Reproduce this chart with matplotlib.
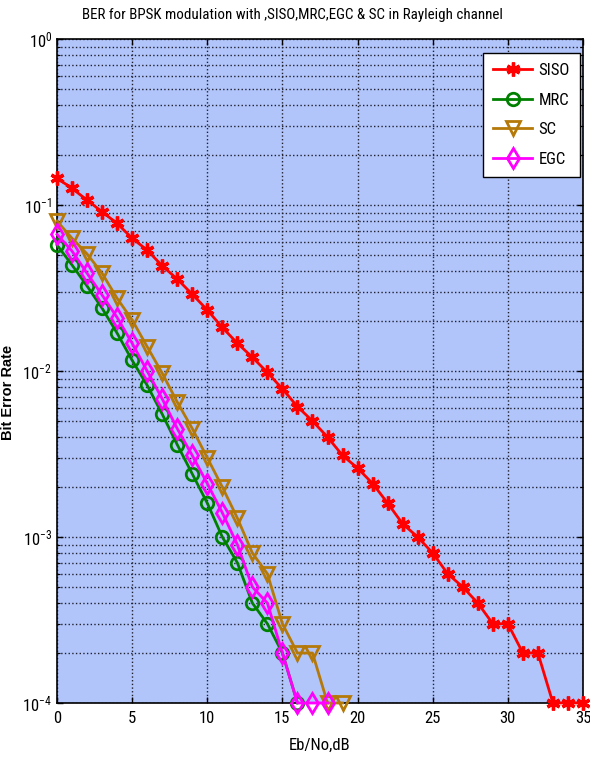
import numpy as np
import matplotlib
matplotlib.use("Agg")
import matplotlib.pyplot as plt
from matplotlib import font_manager

# ---------------- data ----------------
ebno_db = list(range(0, 36))

ber_siso = [0.145, 0.126, 0.107, 0.091, 0.0775, 0.063, 0.0535, 0.043, 0.0358, 0.029,
            0.0233, 0.0183, 0.0147, 0.0121, 0.0098, 0.0078, 0.0061, 0.0050, 0.0040, 0.0031,
            0.0026, 0.0021, 0.0016, 0.0012, 0.0010, 0.0008, 0.0006, 0.0005, 0.0004, 0.0003,
            0.0003, 0.0002, 0.0002, 0.0001, 0.0001, 0.0001]

ber_mrc = [0.0574, 0.0435, 0.0325, 0.0239, 0.0169, 0.0116, 0.0082, 0.0055, 0.0036, 0.0024,
           0.0016, 0.0010, 0.0007, 0.0004, 0.0003, 0.0002, 0.0001] + [np.nan] * 19

ber_sc = [0.080, 0.063, 0.0507, 0.0388, 0.0274, 0.0203, 0.0140, 0.0097, 0.0065, 0.0045,
          0.0030, 0.0020, 0.0013, 0.0008, 0.0006, 0.0003, 0.0002, 0.0002, 0.0001, 0.0001] + [np.nan] * 16

ber_egc = [0.0666, 0.0528, 0.0388, 0.0287, 0.0210, 0.0147, 0.0100, 0.0068, 0.0045, 0.0031,
           0.0021, 0.0014, 0.0009, 0.0005, 0.0004, 0.0002, 0.0001, 0.0001, 0.0001] + [np.nan] * 17

series_names = ["SISO", "MRC", "SC", "EGC"]
x_ticks = [0, 5, 10, 15, 20, 25, 30, 35]

title_text = "BER for BPSK modulation with ,SISO,MRC,EGC & SC in Rayleigh channel"
xlabel_text = "Eb/No,dB"
ylabel_text = "Bit Error Rate"

# ---------------- fonts ----------------
names = {f.name for f in font_manager.fontManager.ttflist}
narrow_candidates = [n for n in ["Liberation Sans Narrow", "Arial Narrow", "Roboto Condensed",
                                 "Open Sans Condensed", "Noto Sans Condensed", "DejaVu Sans Condensed"]
                     if n in names]
is_narrow = bool(narrow_candidates)
base = narrow_candidates[0] if is_narrow else "Liberation Sans"
plt.rcParams["font.family"] = [base, "DejaVu Sans"]
plt.rcParams["mathtext.fontset"] = "custom"
plt.rcParams["mathtext.rm"] = base
plt.rcParams["mathtext.it"] = base
plt.rcParams["mathtext.bf"] = base

k = 1.0 if is_narrow else 0.85   # shrink if no narrow font exists
tick_fs = 12.0 * k
title_fs = 10.8 * k
xlabel_fs = 12.0 * k
legend_fs = 12.0 * k

# ---------------- figure ----------------
fig = plt.figure(figsize=(5.9, 7.58), dpi=100)
ax = fig.add_axes([57 / 590, 1 - 703 / 758, (583 - 57) / 590, (703 - 39) / 758])
ax.set_facecolor("#b1c5fb")

ax.set_yscale("log")
ax.set_xlim(0, 35)
ax.set_ylim(1e-4, 1)

styles = [
    dict(color="#ff0000", marker=(6, 2, 0), ms=10, mew=2.4, mfc="none"),
    dict(color="#008000", marker="o", ms=9, mew=2, mfc="none"),
    dict(color="#b5790a", marker="v", ms=10, mew=2, mfc="none"),
    dict(color="#ff00ff", marker="d", ms=10, mew=2, mfc="none"),
]
for name, data, st in zip(series_names, [ber_siso, ber_mrc, ber_sc, ber_egc], styles):
    ax.plot(ebno_db, data, lw=2, label=name, clip_on=False, zorder=3, **st)

ax.set_xticks(x_ticks)
ax.grid(True, which="major", axis="both", color="#20202e", linestyle=":", linewidth=1.0)
ax.grid(True, which="minor", axis="y", color="#20202e", linestyle=":", linewidth=1.0)
ax.set_axisbelow(True)

ax.tick_params(which="both", direction="in", top=True, right=True, labelsize=tick_fs)
ax.tick_params(which="major", length=4, width=1)
ax.tick_params(which="minor", length=2.5, width=0.8)
ax.tick_params(axis="x", which="minor", bottom=False, top=False)
ax.tick_params(axis="x", pad=6)
for sp in ax.spines.values():
    sp.set_linewidth(1.2)

fig.text(292 / 590, 1 - 15 / 758, title_text, fontsize=title_fs, ha="center", va="center")
ax.set_xlabel(xlabel_text, fontsize=xlabel_fs, labelpad=8)
ax.set_ylabel(ylabel_text, fontsize=10.5, fontweight="bold",
              family=["Liberation Sans", "DejaVu Sans"])
ax.yaxis.set_label_coords((15 - 57) / 526, (703 - 392) / 664)

fpx = legend_fs * 100 / 72
leg = ax.legend(loc="upper right", bbox_to_anchor=((580 - 57) / 526, (703 - 53) / 664),
                borderaxespad=0, fontsize=legend_fs, frameon=True, fancybox=False,
                edgecolor="black", facecolor="white", framealpha=1,
                handlelength=39 / fpx, handletextpad=6.5 / fpx,
                labelspacing=31.3 / fpx - 1.0, borderpad=0.6)
leg.get_frame().set_linewidth(1.0)

fig.savefig("out.png", dpi=100)
